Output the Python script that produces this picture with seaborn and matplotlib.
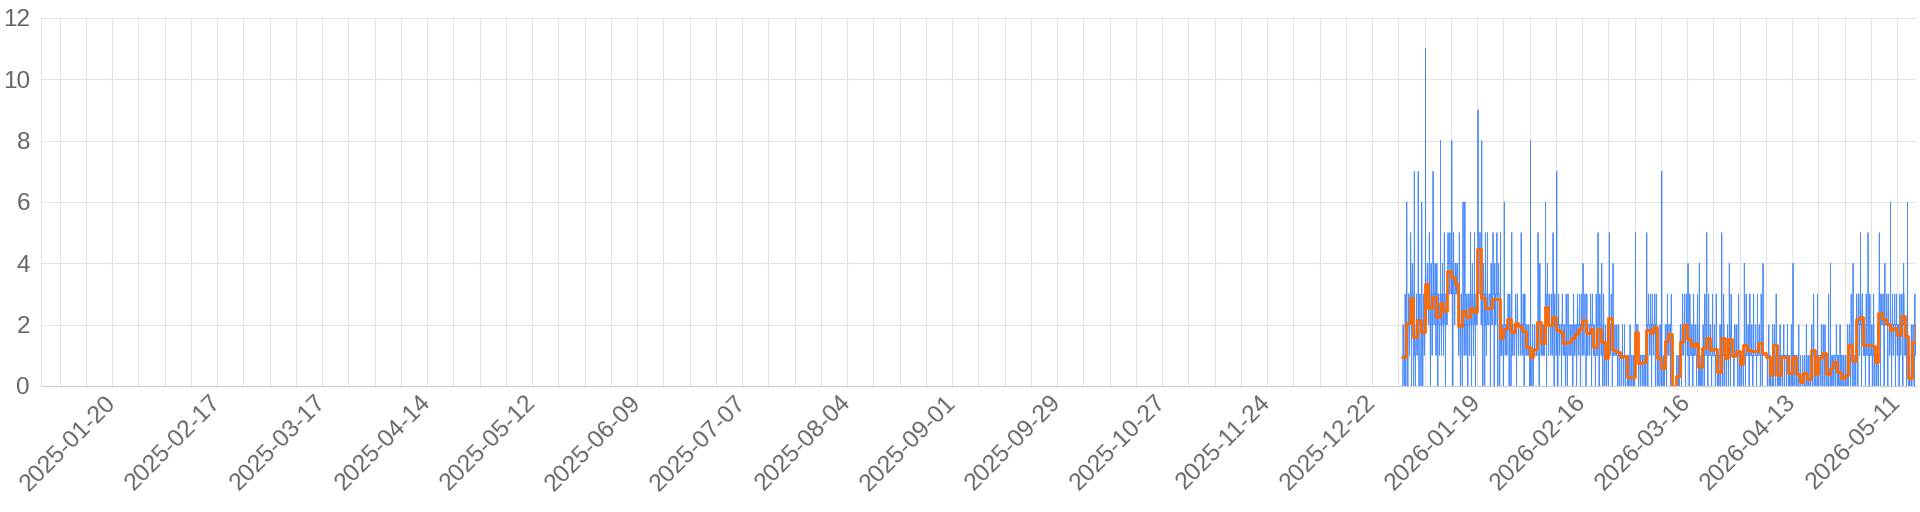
"""Hourly counts with their daily mean, drawn like the dashboard chart."""

import matplotlib
matplotlib.use('Agg')
import matplotlib.pyplot as plt
import matplotlib.dates as mdates
from matplotlib.ticker import FuncFormatter
import pandas as pd
import seaborn as sns

start_day = "2025-12-30"
x_min = "2025-01-01"
x_max = "2026-05-16"
label_anchor = "2025-01-20"
y_ticks = [0, 2, 4, 6, 8, 10, 12]

# daily mean, one value per day from start_day
daily_mean = [
    0.93, 2.04, 2.86, 1.61, 2.15, 1.77, 3.32, 2.53, 2.89, 2.26,
    2.72, 2.46, 3.75, 3.57, 3.32, 1.96, 2.45, 2.26, 2.53, 2.42,
    4.47, 2.86, 2.55, 2.55, 2.84, 2.84, 1.58, 1.85, 2.18, 1.77,
    2.04, 1.96, 1.79, 1.28, 0.93, 1.20, 2.10, 1.39, 2.59, 1.99,
    2.24, 1.83, 1.76, 1.39, 1.45, 1.55, 1.70, 1.85, 2.15, 1.74,
    1.85, 1.28, 1.85, 1.45, 0.92, 2.23, 1.17, 1.12, 0.93, 0.99,
    0.30, 0.30, 1.77, 0.74, 0.79, 1.83, 1.74, 1.91, 0.90, 0.60,
    1.48, 1.70, 0.00, 0.33, 1.45, 2.00, 1.53, 1.30, 1.41, 0.63,
    1.25, 1.55, 1.17, 1.21, 0.45, 1.55, 0.92, 1.53, 0.99, 1.15,
    0.71, 1.33, 1.17, 1.15, 1.15, 1.41, 1.09, 0.93, 0.36, 1.34,
    0.36, 0.93, 0.93, 0.41, 0.93, 0.39, 0.14, 0.41, 0.22, 1.17,
    0.38, 0.90, 1.07, 0.38, 0.58, 0.77, 0.47, 0.25, 0.36, 1.34,
    0.80, 2.17, 2.24, 1.34, 1.34, 1.30, 0.77, 2.39, 2.20, 2.01,
    1.83, 1.90, 1.66, 2.28, 1.63, 0.25, 1.45, 1.99,
]

# hourly counts, one string of 24 hex digits per day (b = 11)
hourly_counts = [
    "000112 211100 000112 332110", "122236 322211 011223 332221",
    "222335 543321 022344 443332", "011127 322110 011122 332211",
    "112223 732210 022333 332221", "011226 322210 011223 322211",
    "22334b 443322 233334 443332", "223335 333221 022344 333221",
    "222337 443322 223333 433222", "122233 433221 022333 332221",
    "222238 333321 222333 433222", "122335 333222 022333 333222",
    "234445 444433 334445 444443", "333448 644332 033445 443333",
    "233344 444333 333444 443332", "112225 322211 022233 322211",
    "022336 333221 112236 332222", "122233 332221 022333 333222",
    "122335 333222 022344 333222", "122233 533222 022333 333222",
    "444559 554443 444455 554443", "222338 333322 022344 333333",
    "022355 332221 222335 332222", "222333 333322 022344 333222",
    "223335 333333 023344 333322", "233333 533322 033344 333322",
    "011125 222211 112222 222110", "111226 222221 122222 222111",
    "222233 322222 022333 322221", "011225 222221 112222 222211",
    "122223 322222 022233 322221", "122222 222221 112225 322221",
    "122222 322211 022223 222211", "111112 221111 111122 221111",
    "000118 111000 000112 211100", "111112 221111 111112 211111",
    "122225 322211 022234 322221", "111122 222111 111122 221111",
    "222336 333222 022334 333222", "122223 222222 122223 322221",
    "222235 322221 022333 322222", "111227 222211 012223 222211",
    "112222 222221 012233 222211", "111122 221111 011223 221111",
    "011223 222111 111122 222111", "111222 222211 011123 222211",
    "111222 222211 012223 322211", "111222 322221 012223 322221",
    "122234 322221 222223 322222", "011223 322211 112222 222221",
    "122223 222211 012233 222221", "111122 211111 011123 221111",
    "112225 222211 012223 222221", "111124 221111 011223 221111",
    "001111 211110 011112 211110", "222235 322221 222223 322222",
    "011114 111111 111112 211111", "111112 211111 011112 211111",
    "011111 111111 011112 111110", "111111 211110 111111 111111",
    "000001 100000 000011 210000", "000001 110000 000001 111000",
    "112225 222211 111222 222211", "001111 111110 001111 111110",
    "001111 111110 011111 111110", "112225 222211 022223 222211",
    "111222 322211 012223 222221", "122222 322211 022233 322221",
    "011111 111110 111111 211110", "000007 110000 000011 111000",
    "111222 222111 011223 222111", "111222 222211 012223 322211",
    "000000 000000 000000 000000", "000001 110000 000011 111000",
    "111222 221111 011223 222111", "222223 322221 022223 322221",
    "111224 221111 011223 222111", "111112 221111 011123 221111",
    "111222 221111 011123 222111", "000014 111000 000111 111100",
    "111112 211111 011123 221111", "111225 221111 011123 222111",
    "111112 211111 011113 211111", "111112 211111 011113 221111",
    "000011 110000 001111 211000", "111225 221111 011123 222111",
    "011111 111110 111111 211110", "111124 222111 011223 222111",
    "111111 111110 111112 111111", "111112 211111 011113 211111",
    "001111 111100 001111 111110", "111114 221111 011123 211111",
    "111112 211111 011113 211111", "111112 211111 011113 211111",
    "111112 211111 011113 211111", "111222 221111 011123 222111",
    "011114 111111 111111 111111", "111111 111110 011111 211110",
    "000011 100000 000011 211000", "111122 221111 011123 221111",
    "000011 110000 000011 210000", "011111 111110 111111 211110",
    "011111 111111 011112 111110", "000011 110000 000011 211000",
    "001114 111110 011111 111110", "000011 110000 000011 210000",
    "000001 000000 000001 100000", "000011 110000 000011 211000",
    "000001 100000 000001 110000", "111112 211111 011113 211111",
    "000011 110000 000011 300000", "011111 111110 111111 211110",
    "111111 211111 011112 211111", "000011 110000 000013 100000",
    "000014 111000 000111 111000", "001111 111100 001111 211110",
    "000011 111000 000011 211000", "000001 110000 000001 110000",
    "000011 110000 000011 210000", "111122 221111 011123 221111",
    "001114 111100 001111 111100", "222233 322222 022233 332221",
    "222235 332221 022233 322222", "111122 221111 011223 211111",
    "111125 211111 011113 211111", "111112 221111 011123 221111",
    "001111 111110 000111 211110", "222335 333222 022333 322222",
    "222233 322221 022334 322222", "222223 322221 022233 222221",
    "112226 222211 012223 222211", "122222 322221 022223 322221",
    "111222 222211 012223 222211", "222233 333222 022234 333222",
    "111122 222111 011223 621111", "000001 100000 000011 200000",
    "111222 221111 011223 222111", "122224 322221 022223 322221",
]

GRID = "#e4e4e4"
TEXT = "#666666"


def build_frames():
    days = pd.date_range(start_day, periods=len(daily_mean), freq="D")
    times, counts = [], []
    for day, row in zip(days, hourly_counts):
        row = row.replace(" ", "")
        for i, c in enumerate(row):
            times.append(day + pd.Timedelta(hours=i))
            counts.append(int(c, 16))
    hourly = pd.DataFrame({"time": times, "count": counts})

    # repeat the last mean so the final step covers its whole day
    step_times = list(days) + [days[-1] + pd.Timedelta(days=1)]
    step_values = list(daily_mean) + [daily_mean[-1]]
    daily = pd.DataFrame({"time": step_times, "mean": step_values})
    return hourly, daily


def plot():
    sns.set_style("white")
    plt.rcParams['font.family'] = ['Liberation Sans', 'DejaVu Sans']

    hourly, daily = build_frames()

    fig = plt.figure(figsize=(19.2, 5.12), dpi=100)
    ax = fig.add_axes([41 / 1920, 1 - 386 / 512, 1875 / 1920, 368 / 512])

    sns.lineplot(data=hourly, x="time", y="count", ax=ax, color="#1a6cff",
                 linewidth=0.6, alpha=0.78, estimator=None, sort=False)
    sns.lineplot(data=daily, x="time", y="mean", ax=ax, color="#ff6a00",
                 linewidth=2.0, estimator=None, sort=False,
                 drawstyle="steps-post")

    ax.set_xlim(pd.Timestamp(x_min), pd.Timestamp(x_max))
    ax.set_ylim(0, 12)
    ax.set_yticks(y_ticks)
    ax.set_xlabel("")
    ax.set_ylabel("")

    anchor = pd.Timestamp(label_anchor)

    def every_fourth_week(x, pos):
        d = pd.Timestamp(mdates.num2date(x)).tz_localize(None).normalize()
        if (d - anchor).days % 28 == 0:
            return d.strftime("%Y-%m-%d")
        return ""

    ax.xaxis.set_major_locator(mdates.WeekdayLocator(byweekday=mdates.MO))
    ax.xaxis.set_major_formatter(FuncFormatter(every_fourth_week))

    ax.grid(True, color=GRID, linewidth=0.75)
    ax.set_axisbelow(True)
    for side in ["top", "right"]:
        ax.spines[side].set_visible(False)
    ax.spines["left"].set_color(GRID)
    ax.spines["left"].set_linewidth(0.75)
    ax.spines["bottom"].set_color("#cfcfcf")
    ax.spines["bottom"].set_linewidth(0.9)

    ax.tick_params(axis="x", length=5.5, width=0.75, color=GRID,
                   labelsize=17.5, labelcolor=TEXT, pad=4)
    ax.tick_params(axis="y", length=6, width=0.75, color=GRID,
                   labelsize=17.5, labelcolor=TEXT, pad=2)
    for label in ax.get_xticklabels():
        label.set_rotation(45)
        label.set_ha("right")
        label.set_va("center")
        label.set_rotation_mode("anchor")

    fig.savefig("out.png", dpi=100)
    plt.close(fig)


if __name__ == "__main__":
    plot()
